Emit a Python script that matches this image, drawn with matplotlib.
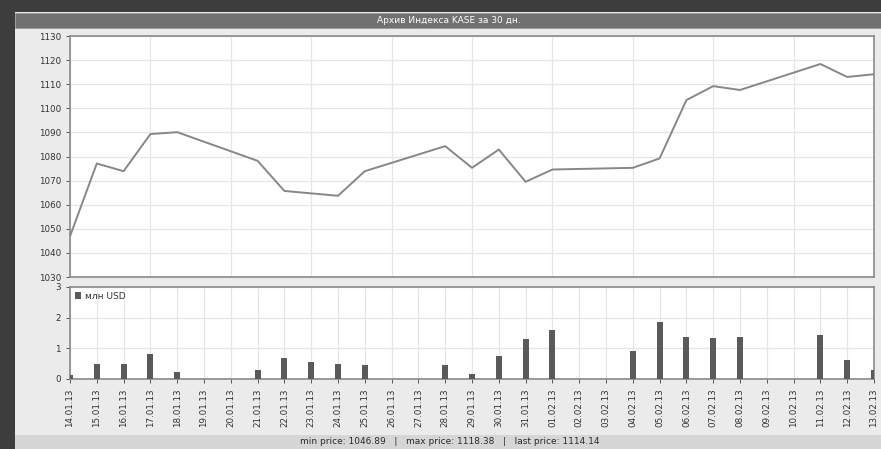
import matplotlib
matplotlib.use("Agg")
import matplotlib.pyplot as plt
import numpy as np
from matplotlib.patches import Rectangle

dates = ["14.01.13", "15.01.13", "16.01.13", "17.01.13", "18.01.13", "19.01.13", "20.01.13",
         "21.01.13", "22.01.13", "23.01.13", "24.01.13", "25.01.13", "26.01.13", "27.01.13",
         "28.01.13", "29.01.13", "30.01.13", "31.01.13", "01.02.13", "02.02.13", "03.02.13",
         "04.02.13", "05.02.13", "06.02.13", "07.02.13", "08.02.13", "09.02.13", "10.02.13",
         "11.02.13", "12.02.13", "13.02.13"]
prices = [1046.89, 1077.1, 1073.9, 1089.3, 1090.1, None, None,
          1078.2, 1065.7, 1064.7, 1063.7, 1073.9, None, None,
          1084.3, 1075.3, 1082.9, 1069.5, 1074.6, None, None,
          1075.3, 1079.2, 1103.4, 1109.2, 1107.6, None, None,
          1118.38, 1113.0, 1114.14]
volumes = [0.13, 0.49, 0.50, 0.82, 0.22, 0, 0,
           0.28, 0.68, 0.54, 0.49, 0.46, 0, 0,
           0.46, 0.16, 0.75, 1.30, 1.60, 0, 0,
           0.90, 1.85, 1.38, 1.35, 1.38, 0, 0,
           1.43, 0.61, 0.28]
title = "Архив Индекса KASE за 30 дн."
footer = "min price: 1046.89   |   max price: 1118.38   |   last price: 1114.14"
legend_label = "млн USD"

W, H = 881, 449
fig = plt.figure(figsize=(W / 100, H / 100), dpi=100)
fig.patch.set_facecolor("#3d3d3d")

def fr(x0, y0, x1, y1):
    return (x0 / W, 1 - y1 / H, (x1 - x0) / W, (y1 - y0) / H)

def band(x0, y0, x1, y1, fc, ec="none", lw=0, z=-2):
    x, y, w, h = fr(x0, y0, x1, y1)
    fig.patches.append(Rectangle((x, y), w, h, transform=fig.transFigure, facecolor=fc,
                                 edgecolor=ec, lw=lw, zorder=z))

band(15, 12, 881, 449, "#ebebeb", z=-3)
band(15, 13, 881, 28, "#717171", ec="#9a9a9a", lw=0.6, z=-2)
band(15, 435, 881, 449, "#d6d6d6", z=-2)
fig.text(449 / W, 1 - 20.5 / H, title, color="white", fontsize=6.5, ha="center", va="center", zorder=5)
fig.text(450 / W, 1 - 442 / H, footer, color="#2a2a2a", fontsize=6.5, ha="center", va="center", zorder=5)

idx = np.arange(len(dates))
tick_kw = dict(labelsize=6.3, colors="#555555", labelcolor="#333333", length=3, width=0.7)

# top price axes
ax1 = fig.add_axes(fr(70, 36, 874, 277))
ax1.set_zorder(2)
pi = [i for i, p in enumerate(prices) if p is not None]
pv = [prices[i] for i in pi]
ax1.plot(pi, pv, color="#878787", lw=1.4, zorder=3)
ax1.set_xlim(0, len(dates) - 1)
ax1.set_ylim(1030, 1130)
ax1.set_yticks(np.arange(1030, 1131, 10))
ax1.set_xticks(idx[::3])
ax1.tick_params(axis="x", length=0, labelbottom=False)
ax1.tick_params(axis="y", **tick_kw)
ax1.grid(True, color="#e6e6e6", lw=0.9)
ax1.set_axisbelow(True)
for s in ax1.spines.values():
    s.set_color("#8a8a8a")
    s.set_linewidth(1.2)

# bottom volume axes
ax2 = fig.add_axes(fr(70, 287, 874, 379))
ax2.set_zorder(2)
ax2.bar(idx, volumes, width=0.23, color="#5a5a5a", zorder=3, label=legend_label)
ax2.set_xlim(0, len(dates) - 1)
ax2.set_ylim(0, 3)
ax2.set_yticks([0, 1, 2, 3])
ax2.set_xticks(idx)
ax2.set_xticklabels(dates, rotation=90)
ax2.tick_params(axis="both", **tick_kw)
ax2.grid(True, color="#e6e6e6", lw=0.9)
ax2.set_axisbelow(True)
for s in ax2.spines.values():
    s.set_color("#8a8a8a")
    s.set_linewidth(1.2)
leg = ax2.legend(loc="upper left", frameon=False, fontsize=6.5, handlelength=0.7, handleheight=0.7,
                 handletextpad=0.5, borderaxespad=0.3, borderpad=0.2)
for t in leg.get_texts():
    t.set_color("#333333")

fig.savefig("out.png", dpi=100, facecolor=fig.get_facecolor())
